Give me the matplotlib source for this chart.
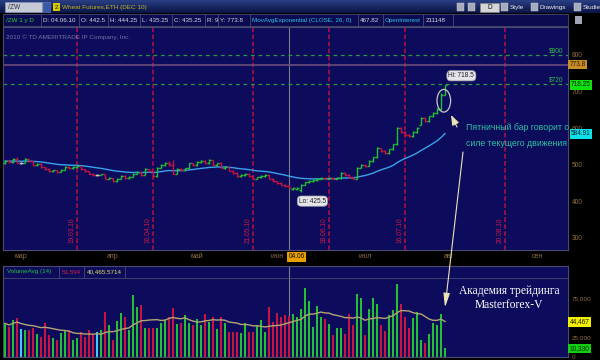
import numpy as np
import pandas as pd
import matplotlib
matplotlib.use("Agg")
import matplotlib.pyplot as plt
import matplotlib.transforms as mtransforms
from matplotlib.patches import Rectangle, Ellipse
from matplotlib.colors import LinearSegmentedColormap

plt.rcParams['font.family'] = ['Liberation Sans', 'DejaVu Sans']

W, H = 600, 360

# daily bars of /ZW (Wheat Dec 10)
start_day = '2010-02-23'
holidays = ['2010-04-02', '2010-05-31', '2010-07-05']

opens = [505, 510, 507, 516, 506, 506, 515, 510, 500, 503, 494, 488, 482, 485, 480, 486,
         494, 490, 494, 496, 488, 482, 476, 472, 472, 474, 462, 464, 455, 462, 470, 464,
         468, 476, 479, 472, 488, 482, 470, 492, 500, 506, 500, 476, 488, 486, 490, 504,
         500, 508, 510, 504, 512, 500, 504, 492, 494, 484, 478, 470, 472, 476, 470, 462,
         466, 470, 473, 462, 455, 450, 446, 442.5, 435, 434, 432, 446, 452, 456, 458, 462,
         465, 462, 465, 462, 464, 478, 472, 466, 462, 492, 500, 498, 510, 520, 545, 538,
         532, 542, 556, 600, 590, 582, 578, 590, 610, 628, 620, 632, 642, 652, 692]
highs = [512, 513, 518, 520, 509, 518, 517, 511, 505, 504, 495, 490, 487, 486, 488, 496,
         497, 496, 499, 497, 489, 483, 478, 475, 476, 475, 466, 465, 464, 472, 471, 470,
         478, 482, 480, 490, 489, 484, 494, 503, 508, 510, 512, 490, 490, 492, 506, 506,
         510, 513, 512, 515, 514, 506, 508, 496, 495, 485, 479, 474, 478, 477, 471, 468,
         472, 475, 474, 463, 457, 452, 448, 444.25, 439, 438, 447, 454, 458, 460, 464, 467,
         467, 467, 466, 466, 480, 479, 474, 468, 494, 503, 502, 512, 522, 548, 547, 540,
         544, 558, 603, 602, 592, 584, 592, 602, 630, 630, 634, 644, 655, 695, 718.5]
lows = [503, 505, 506, 504, 503, 505, 508, 498, 497, 492, 486, 480, 480, 478, 479, 485,
        488, 488, 492, 486, 480, 474, 470, 470, 471, 460, 460, 453, 453, 460, 462, 462,
        466, 474, 470, 471, 480, 467, 468, 490, 498, 498, 474, 474, 484, 484, 488, 498,
        498, 506, 502, 502, 498, 498, 490, 488, 482, 476, 468, 468, 470, 468, 460, 460,
        464, 468, 460, 453, 448, 444, 440, 435.25, 432, 430, 425.5, 444, 450, 454, 456, 460,
        460, 460, 460, 460, 462, 470, 464, 460, 460, 490, 495, 496, 508, 518, 535, 530,
        530, 540, 554, 588, 578, 575, 576, 588, 608, 617, 618, 630, 640, 650, 690]
closes = [510, 507, 516, 506, 506, 515, 510, 500, 503, 494, 488, 482, 485, 480, 486, 494,
          490, 494, 496, 488, 482, 476, 472, 472, 474, 462, 464, 455, 462, 470, 464, 468,
          476, 479, 472, 488, 482, 470, 492, 500, 506, 500, 476, 488, 486, 490, 504, 500,
          508, 510, 504, 512, 500, 504, 492, 494, 484, 478, 470, 472, 476, 470, 462, 466,
          470, 473, 462, 455, 450, 446, 443, 435.25, 437, 436, 446, 452, 456, 458, 462, 465,
          462, 465, 462, 464, 478, 472, 466, 462, 492, 500, 498, 510, 520, 545, 538, 532,
          542, 556, 600, 590, 582, 578, 590, 600, 628, 620, 632, 642, 652, 692, 718.25]
volume = [42500, 38200, 46800, 48900, 35300, 34000, 34000, 36100, 28500, 25400, 42500, 27600,
          23300, 21200, 29700, 34000, 34000, 21200, 23300, 31800, 25400, 34000, 27600, 31800,
          34000, 57500, 40400, 21200, 45900, 55300, 51000, 34000, 78800, 63900, 66000, 36900,
          36900, 36900, 36900, 42500, 46800, 51000, 62600, 41200, 42500, 53200, 42500, 40400,
          48100, 40400, 54000, 44700, 51000, 35300, 51000, 42500, 31800, 31800, 31800, 29700,
          42500, 31800, 31800, 40400, 46800, 31000, 63900, 44700, 55300, 51000, 53200, 51594,
          54000, 50000, 60900, 88200, 70800, 38200, 64700, 51000, 48100, 41200, 27600, 36900,
          36900, 28900, 54000, 40400, 80100, 74600, 27600, 60900, 74600, 66900, 40400, 32500,
          53200, 59600, 92900, 66900, 50200, 36900, 48900, 57500, 21200, 17300, 28800, 42500,
          40400, 54500, 10330]

month_dates = ['2010-03-01', '2010-04-01', '2010-05-03', '2010-06-01',
               '2010-07-01', '2010-08-02', '2010-09-01']
month_labels = ['мар', 'апр', 'май', 'июн', 'июл', 'авг', 'сен']
expiry_dates = ['2010-03-19', '2010-04-16', '2010-05-21', '2010-06-18', '2010-07-16', '2010-08-20']
expiry_labels = ['19.03.10', '16.04.10', '21.05.10', '18.06.10', '16.07.10', '20.08.10']
cursor_date = '2010-06-04'

price_ticks = [300, 400, 500, 600, 700, 800]
vol_ticks = [0, 25000, 75000]
vol_tick_labels = ['0', '25,000', '75,000']
y_line = 773.8
level_lines = [800, 720]
level_labels = ['$800', '$720']
hi_val, lo_val = 718.5, 425.5
last_close_lbl, ema_lbl = '718.25', '584.91'
ema_last = 584.91
vol_avg_lbl, vol_last_lbl = '44,467', '10,330'
vol_avg_last = 44467

info_cells = ['/ZW 1 y D', 'D: 04.06.10', 'O: 442.5', 'H: 444.25', 'L: 435.25', 'C: 435.25',
              'R: 9', 'Y: 773.8', 'MovAvgExponential (CLOSE, 26, 0)', '467.82', 'OpenInterest',
              '211148']

# ---------------------------------------------------------------------
NAVY = '#0c0b5c'
EDGE = '#4a4a72'
GREEN = '#22c032'
RED = '#c8143e'
AXTXT = '#8e6e44'


def rect(x0, y0, x1, y1):
    return [x0 / W, 1 - y1 / H, (x1 - x0) / W, (y1 - y0) / H]


def bday(d):
    return int(np.busday_count(start_day, d, holidays=holidays))


o = np.array(opens, float)
h = np.array(highs, float)
l = np.array(lows, float)
c = np.array(closes, float)
v = np.array(volume, float)
x = np.arange(len(c))
up = c > o
dn = c < o
bar_col = np.where(up, GREEN, np.where(dn, RED, '#c8c8c8'))
vol_col = np.where(up, GREEN, np.where(dn, RED, '#40c8ff'))
ema = pd.Series(c).ewm(span=26, adjust=False).mean()
vol_avg = pd.Series(v).rolling(14, min_periods=1).mean()

month_pos = [bday(d) for d in month_dates]
expiry_pos = [bday(d) for d in expiry_dates]
cursor_pos = bday(cursor_date)

fig = plt.figure(figsize=(6, 3.6), dpi=100, facecolor='black')

# ---------------- price panel ----------------
ax = fig.add_axes(rect(3, 27, 568, 250))
ax.set_facecolor(NAVY)
ax.set_xlim(-0.5, 140.75)
ax.set_ylim(267.2, 876.5)
for s in ax.spines.values():
    s.set_color(EDGE)
    s.set_linewidth(0.8)

for p in expiry_pos:
    ax.axvline(p, color='#b8103e', lw=1.1, dashes=(3, 1.6), zorder=1)
ax.axvline(cursor_pos, color='#7a7a88', lw=0.8, zorder=1)
ax.axhline(y_line, color='#6c4c7c', lw=1.2, zorder=1)
for lv in level_lines:
    ax.axhline(lv, color='#2a9a40', lw=0.9, dashes=(3, 3), zorder=1)

ax.vlines(x, l, h, colors=bar_col, lw=1.0, zorder=3)
ax.hlines(o, x - 0.5, x, colors=bar_col, lw=1.0, zorder=3)
ax.hlines(c, x, x + 0.5, colors=bar_col, lw=1.0, zorder=3)
ax.plot(x, ema, color='#3aa2ea', lw=1.0, zorder=2)

xd_ya = mtransforms.blended_transform_factory(ax.transData, ax.transAxes)
xa_yd = mtransforms.blended_transform_factory(ax.transAxes, ax.transData)
for p, lab in zip(expiry_pos, expiry_labels):
    ax.text(p - 0.4, 0.03, lab, rotation=90, ha='right', va='bottom', fontsize=4.8,
            color='#d01846', transform=xd_ya)
for lv, lab in zip(level_lines, level_labels):
    ax.text(0.992, lv + 2, lab, ha='right', va='bottom', fontsize=4.8, color='#30b848',
            transform=xa_yd)
ax.text(0.006, 0.955, '2010 \u00a9 TD AMERITRADE IP Company, Inc.', fontsize=4.6,
        color='#7474a4', transform=ax.transAxes, va='center')

ax.set_xticks(month_pos)
ax.set_xticklabels(month_labels)
ax.tick_params(axis='x', length=0, pad=2.2, labelsize=5, labelcolor=AXTXT)
ax.yaxis.tick_right()
ax.set_yticks(price_ticks)
ax.set_yticklabels([str(t) for t in price_ticks])
ax.tick_params(axis='y', length=0, pad=2.5, labelsize=4.8, labelcolor=AXTXT)

box = dict(boxstyle='square,pad=0.2', lw=0)
ax.text(1.003, y_line, '773.8', transform=xa_yd, fontsize=4.7, va='center', ha='left',
        color='#2a1a00', bbox=dict(box, fc='#c88e2c'), clip_on=False)
ax.text(1.005, c[-1], last_close_lbl, transform=xa_yd, fontsize=4.7, va='center', ha='left',
        color='#002000', bbox=dict(box, fc='#10e010'), clip_on=False)
ax.text(1.005, ema_last, ema_lbl, transform=xa_yd, fontsize=4.7, va='center', ha='left',
        color='#002030', bbox=dict(box, fc='#10e0e8'), clip_on=False)

lbl_box = dict(boxstyle='round,pad=0.25,rounding_size=0.6', fc='#e4e4ea', ec='#9a9aa0', lw=0.5)
ax.annotate('Hi: %g' % hi_val, xy=(x[-1], hi_val), xytext=(2.5, 4), textcoords='offset points',
            ha='left', va='bottom', fontsize=4.7, color='#202020', bbox=lbl_box)
ilo = int(np.argmin(l))
ax.annotate('Lo: %g' % lo_val, xy=(ilo, lo_val), xytext=(-1.5, -4), textcoords='offset points',
            ha='left', va='top', fontsize=4.7, color='#202020', bbox=lbl_box)
ax.add_patch(Ellipse((x[-1] - 0.3, 675), 3.4, 62, fill=False, ec='#c8c8c8', lw=0.9, zorder=4))

# ---------------- volume panel ----------------
axv = fig.add_axes(rect(3, 266, 568, 357))
axv.set_facecolor(NAVY)
axv.set_xlim(-0.5, 140.75)
axv.set_ylim(-640, 116000)
for s in axv.spines.values():
    s.set_color(EDGE)
    s.set_linewidth(0.8)
axv.axvline(cursor_pos, color='#7a7a88', lw=0.8, zorder=1)
axv.bar(x, v, width=0.42, color=vol_col, zorder=2)
axv.plot(x, vol_avg, color='#b4a474', lw=1.0, zorder=3)
axv.set_xticks([])
axv.yaxis.tick_right()
axv.set_yticks(vol_ticks)
axv.set_yticklabels(vol_tick_labels)
axv.tick_params(axis='y', length=0, pad=2.5, labelsize=4.6, labelcolor=AXTXT)
vx = mtransforms.blended_transform_factory(axv.transAxes, axv.transData)
axv.text(1.003, vol_avg_last, vol_avg_lbl, transform=vx, fontsize=4.7, va='center', ha='left',
         color='#202000', bbox=dict(box, fc='#f0f000'), clip_on=False)
axv.text(1.003, v[-1], vol_last_lbl, transform=vx, fontsize=4.7, va='center', ha='left',
         color='#002000', bbox=dict(box, fc='#10d010'), clip_on=False)

# ---------------- overlay: toolbar, info bar, notes ----------------
ui = fig.add_axes([0, 0, 1, 1], zorder=10)
ui.axis('off')
grad = np.linspace(0, 1, 32).reshape(-1, 1)
ui.imshow(grad, cmap=LinearSegmentedColormap.from_list('tb', ['#2c4288', '#0a1446']),
          extent=(0, W, 13.5, 0), aspect='auto', zorder=0)
ui.set_xlim(0, W)
ui.set_ylim(H, 0)

ui.add_patch(Rectangle((5, 2), 37, 10, fc='#c6cad6', ec='#8898b8', lw=0.5))
ui.text(8, 7.2, '/ZW', fontsize=4.8, color='#303040', va='center')
ui.add_patch(Rectangle((43, 2), 7, 10, fc='#3858a8', ec='#6a80c0', lw=0.4))
ui.add_patch(Rectangle((53, 3), 7, 8, fc='#d8c800', lw=0))
ui.text(56.5, 7.2, '2', fontsize=4.6, color='#202000', ha='center', va='center')
ui.text(62, 7.2, 'Wheat Futures,ETH (DEC 10)', fontsize=4.6, color='#c4b028', va='center')
for ix in (457, 468, 501, 531, 574):
    ui.add_patch(Rectangle((ix, 3), 7, 8, fc='#a4acbc', ec='#d0d0d8', lw=0.3))
ui.add_patch(Rectangle((480, 2.5), 19, 9, fc='#d6d6d6', ec='#8a8a8a', lw=0.4))
ui.text(489.5, 7.2, 'D', fontsize=4.8, color='#101010', ha='center', va='center')
for tx, t in ((510, 'Style'), (540, 'Drawings'), (583, 'Studies')):
    ui.text(tx, 7.2, t, fontsize=4.6, color='#f0f0f0', va='center')

ui.add_patch(Rectangle((3, 14), 565, 12, fc='#0b0b52', ec=EDGE, lw=0.6))
seps = [40.7, 78.7, 107.7, 139.7, 172.3, 205, 217.7, 250, 358, 383, 423, 453]
ui.vlines(seps, 14, 26, color=EDGE, lw=0.6)
starts = [6] + [s + 2.2 for s in seps[:-1]]
cols = ['#30d030'] + ['#d8d8d8'] * 7 + ['#30c4e4', '#d8d8d8', '#30c4e4', '#d8d8d8']
for sx, t, cc in zip(starts, info_cells, cols):
    ui.text(sx, 20.2, t, fontsize=4.5, color=cc, va='center')
ui.add_patch(Rectangle((575, 16), 7, 8, fc='#a0a4b4', lw=0))

# date strip cursor box
cx = mtransforms.blended_transform_factory(ax.transData, ui.transData)
ui.text(cursor_pos - 0.1, 257, '04.06', transform=cx, fontsize=4.7, color='#101000',
        ha='left', va='center', bbox=dict(boxstyle='square,pad=0.2', fc='#e8a000', lw=0))

# volume header
ui.hlines(278, 3, 568, color=EDGE, lw=0.6)
ui.vlines([59, 84, 125], 266, 278, color=EDGE, lw=0.6)
ui.text(7, 272, 'VolumeAvg (14)', fontsize=4.5, color='#20c040', va='center')
ui.text(62, 272, '51,594', fontsize=4.5, color='#d02040', va='center')
ui.text(87, 272, '40,465.5714', fontsize=4.5, color='#e0e060', va='center')

# notes
ui.text(466, 128, 'Пятничный бар говорит о', fontsize=6.3, color='#30c0a0', va='center')
ui.text(466, 143, 'силе текущего движения', fontsize=6.3, color='#30c0a0', va='center')
ui.annotate('', xy=(451, 115), xytext=(457, 127),
            arrowprops=dict(arrowstyle='-|>,head_length=0.6,head_width=0.22',
                            color='#ece4b4', lw=0.8, mutation_scale=10, shrinkA=0, shrinkB=0))
ui.annotate('', xy=(x[-1], 63000), xycoords=axv.transData, xytext=(463, 152),
            textcoords=ui.transData,
            arrowprops=dict(arrowstyle='-|>,head_length=0.7,head_width=0.16',
                            color='#ece4b4', lw=0.8, mutation_scale=12, shrinkA=0, shrinkB=0))
ui.text(509, 291, 'Академия трейдинга', fontsize=8.3, color='white', ha='center', va='center',
        family=['Liberation Serif', 'DejaVu Serif'])
ui.text(509, 305, 'Masterforex-V', fontsize=8.3, color='white', ha='center', va='center',
        family=['Liberation Serif', 'DejaVu Serif'])

fig.savefig('out.png', dpi=100, facecolor='black')
